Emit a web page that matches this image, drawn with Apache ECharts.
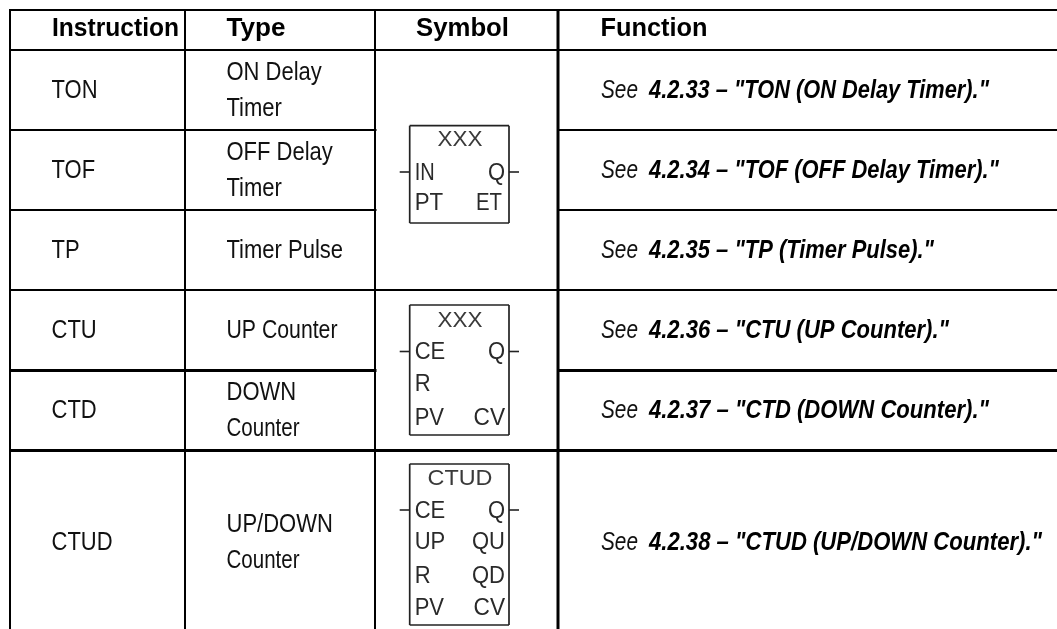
<!DOCTYPE html>
<html><head><meta charset="utf-8">
<script src="https://cdn.jsdelivr.net/npm/echarts@6/dist/echarts.min.js"></script>
<style>html,body{margin:0;padding:0;background:#fff}#c{width:1057px;height:629px}</style>
</head><body><div id="c"></div>
<script>
// ---- table content ----
const headers = ['Instruction', 'Type', 'Symbol', 'Function'];
const instructions = ['TON', 'TOF', 'TP', 'CTU', 'CTD', 'CTUD'];
const types = [['ON Delay', 'Timer'], ['OFF Delay', 'Timer'], ['Timer Pulse'], ['UP Counter'], ['DOWN', 'Counter'], ['UP/DOWN', 'Counter']];
const sections = ['4.2.33', '4.2.34', '4.2.35', '4.2.36', '4.2.37', '4.2.38'];
const titles = ['TON (ON Delay Timer).', 'TOF (OFF Delay Timer).', 'TP (Timer Pulse).', 'CTU (UP Counter).', 'CTD (DOWN Counter).', 'CTUD (UP/DOWN Counter).'];
const symbolTitles = ['XXX', 'XXX', 'CTUD'];
const symbolLeft = [['IN', 'PT'], ['CE', 'R', 'PV'], ['CE', 'UP', 'R', 'PV']];
const symbolRight = [['Q', 'ET'], ['Q', '', 'CV'], ['Q', 'QU', 'QD', 'CV']];

// ---- layout on the page-sized value axes ----
const columnEdges = [10, 185, 375, 558];
const rowEdges = [10, 50, 130, 210, 290, 370.5, 450.5];
const ruleWeights = [2, 2, 2, 2, 2, 3, 3];
const columnWeights = [2, 2, 2, 3];
const tableBottom = 629, tableRight = 1057;
const headerX = [52, 226.5, 416, 600.5];
const headerWidths = [127, 59, 93, 107];
const instructionX = 51.5, typeX = 226.5, functionX = 601, sectionX = 649;
const rowCentres = [89, 169, 249, 329, 409, 541];
const lineGap = 35.5;
const boxLeft = 409.7, boxRight = 509;
const boxTops = [125.7, 305, 464];
const boxBottoms = [223, 435, 625];
const titleCentres = [138, 319, 477];
const pinCentres = [[172, 202], [351.5, 383, 417], [510, 541, 575, 607]];
const titleCentre = 460;
const sectionWidths = [340, 350, 285, 300, 340, 393];
const typeWidths = { 'Counter': 73, 'UP Counter': 111 };
const seeWidth = 37;
const symbolWidths = { 'CTUD': 65, 'XXX': 45, 'PT': 28.5, 'CV': 31.5, 'ET': 26, 'IN': 20 };

const lines = [];
const texts = [];
function addLine(x1, y1, x2, y2, w, c) { lines.push([x1, y1, x2, y2, w, c || '#000']); }
function addText(x, y, t, kind, fitW) { texts.push([x, y, t, kind, fitW || 0]); }

// table rules
rowEdges.forEach((y, i) => {
  const thick = ruleWeights[i];
  if (i === 2 || i === 3 || i === 5) {
    addLine(columnEdges[0], y, columnEdges[2] + 1.5, y, thick);
    addLine(columnEdges[3], y, tableRight, y, thick);
  } else {
    addLine(columnEdges[0], y, tableRight, y, thick);
  }
});
columnEdges.forEach((x, i) => addLine(x, rowEdges[0] - 1, x, tableBottom, columnWeights[i]));

// header
headers.forEach((h, i) => addText(headerX[i], 28, h, 'head', headerWidths[i]));

// rows
instructions.forEach((name, i) => {
  const base = rowCentres[i];
  addText(instructionX, base, name, 'body');
  const t = types[i];
  t.forEach((s, j) => addText(typeX, base + (j - (t.length - 1) / 2) * lineGap, s, 'body', typeWidths[s]));
  addText(functionX, base, 'See', 'see', seeWidth);
  addText(sectionX, base, sections[i] + ' \u2013 "' + titles[i] + '"', 'ref', sectionWidths[i]);
});

// symbols
symbolTitles.forEach((title, b) => {
  const top = boxTops[b], bottom = boxBottoms[b], col = '#222';
  addLine(boxLeft, top, boxRight, top, 1.7, col);
  addLine(boxLeft, bottom, boxRight, bottom, 1.7, col);
  addLine(boxLeft, top, boxLeft, bottom, 1.7, col);
  addLine(boxRight, top, boxRight, bottom, 1.7, col);
  const pinY = pinCentres[b][0];
  addLine(boxLeft - 10, pinY, boxLeft, pinY, 1.6, col);
  addLine(boxRight, pinY, boxRight + 10, pinY, 1.6, col);
  addText(titleCentre, titleCentres[b], title, 'symTitle', symbolWidths[title]);
  symbolLeft[b].forEach((s, j) => addText(boxLeft + 5, pinCentres[b][j], s, 'symL', symbolWidths[s]));
  symbolRight[b].forEach((s, j) => { if (s) addText(s === 'ET' ? boxRight - 7 : boxRight - 4, pinCentres[b][j], s, 'symR', symbolWidths[s]); });
});

const FF = '"Liberation Sans", Arial, sans-serif';
const kinds = {
  head: { font: 'bold 24px ' + FF, fill: '#000', sx: 1, sy: 1.05, dy: 1.3, align: 'left' },
  body: { font: '22px ' + FF, fill: '#111', sx: 1, sy: 1.16, dy: 1.8, align: 'left' },
  see:  { font: 'italic 22px ' + FF, fill: '#111', sx: 1, sy: 1.16, dy: 1.8, align: 'left' },
  ref:  { font: 'italic bold 22px ' + FF, fill: '#000', sx: 1, sy: 1.16, dy: 1.8, align: 'left' },
  symTitle: { font: '21px ' + FF, fill: '#3a3a3a', sx: 1, sy: 1.05, dy: 1.6, align: 'center' },
  symL: { font: '22px ' + FF, fill: '#2a2a2a', sx: 1, sy: 1.05, dy: 1.6, align: 'left' },
  symR: { font: '22px ' + FF, fill: '#2a2a2a', sx: 1, sy: 1.05, dy: 1.6, align: 'right' }
};

const chart = echarts.init(document.getElementById('c'), null, { renderer: 'canvas' });
chart.setOption({
  animation: false,
  backgroundColor: '#fff',
  grid: { left: 0, right: 0, top: 0, bottom: 0 },
  xAxis: { type: 'value', min: 0, max: 1057, show: false },
  yAxis: { type: 'value', min: 0, max: 629, inverse: true, show: false },
  tooltip: { show: false },
  series: [
    {
      type: 'custom', silent: true, clip: false,
      data: lines,
      encode: { x: [0, 2], y: [1, 3] },
      renderItem(params, api) {
        const a = api.coord([api.value(0), api.value(1)]);
        const b = api.coord([api.value(2), api.value(3)]);
        const d = lines[params.dataIndex];
        return { type: 'line', shape: { x1: a[0], y1: a[1], x2: b[0], y2: b[1] },
                 style: { stroke: d[5], lineWidth: d[4], fill: null } };
      }
    },
    {
      type: 'custom', silent: true, clip: false,
      data: texts.map(t => [t[0], t[1]]),
      encode: { x: 0, y: 1 },
      renderItem(params, api) {
        const p = api.coord([api.value(0), api.value(1)]);
        const t = texts[params.dataIndex], k = kinds[t[3]];
        let sx = k.sx;
        if (t[4] && echarts.format.getTextRect) {
          sx = t[4] / echarts.format.getTextRect(t[2], k.font).width;
        }
        return { type: 'text', x: p[0], y: p[1] + k.dy, scaleX: sx, scaleY: k.sy,
                 style: { text: t[2], x: 0, y: 0, font: k.font, fill: k.fill, align: k.align, verticalAlign: 'middle' } };
      }
    }
  ]
});
</script></body></html>
